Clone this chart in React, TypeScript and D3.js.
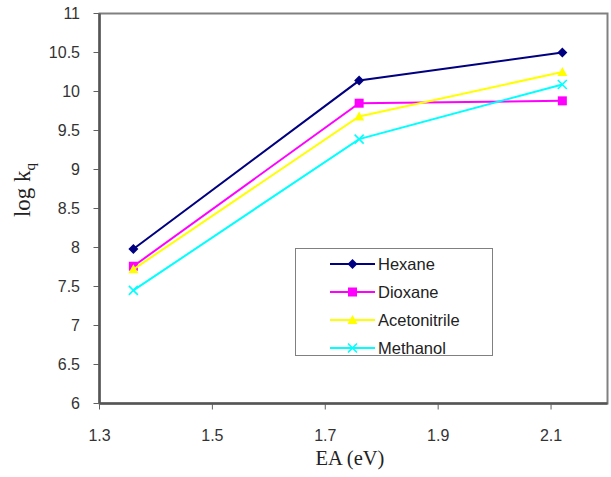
import React from "react";
import * as d3 from "d3";

const eaValues = [1.36, 1.76, 2.12];
const seriesNames = ["Hexane", "Dioxane", "Acetonitrile", "Methanol"];
const hexane = [7.98, 10.14, 10.5];
const dioxane = [7.76, 9.85, 9.88];
const acetonitrile = [7.72, 9.68, 10.25];
const methanol = [7.45, 9.39, 10.09];
const xTicks = [1.3, 1.5, 1.7, 1.9, 2.1];
const yTicks = [6, 6.5, 7, 7.5, 8, 8.5, 9, 9.5, 10, 10.5, 11];

const seriesValues = [hexane, dioxane, acetonitrile, methanol];
const colors = ["#000080", "#ff00ff", "#ffff00", "#00ffff"];
const markers = ["diamond", "square", "triangle", "cross"];

function Marker({ type, x, y, color }: { type: string; x: number; y: number; color: string }) {
  if (type === "diamond") {
    const s = 5;
    return <path d={`M${x},${y - s}L${x + s},${y}L${x},${y + s}L${x - s},${y}Z`} fill={color} />;
  }
  if (type === "square") {
    const s = 4.5;
    return <rect x={x - s} y={y - s} width={2 * s} height={2 * s} fill={color} />;
  }
  if (type === "triangle") {
    const s = 5;
    return <path d={`M${x},${y - s}L${x + s},${y + s * 0.8}L${x - s},${y + s * 0.8}Z`} fill={color} />;
  }
  const s = 4.5;
  return (
    <path
      d={`M${x - s},${y - s}L${x + s},${y + s}M${x + s},${y - s}L${x - s},${y + s}`}
      stroke={color}
      strokeWidth={1.6}
      fill="none"
    />
  );
}

export default function App() {
  const width = 611;
  const height = 477;
  const left = 99.5;
  const right = 607.5;
  const top = 13.5;
  const bottom = 403.5;
  const x = d3.scaleLinear().domain([1.3, 2.2]).range([left, right]);
  const y = d3.scaleLinear().domain([6, 11]).range([bottom, top]);
  const line = d3
    .line<number>()
    .x((_, i) => x(eaValues[i]))
    .y((d) => y(d));

  const sans = "'Liberation Sans', Arial, sans-serif";
  const serif = "'Liberation Serif', 'Times New Roman', serif";

  const legX = 295.5;
  const legY = 248.5;
  const legW = 197;
  const legH = 107;

  return (
    <svg width={width} height={height} style={{ position: "absolute", left: 0, top: 0 }}>
      <rect width={width} height={height} fill="#fff" />
      {/* ticks */}
      {yTicks.map((t) => (
        <g key={"y" + t}>
          <line x1={left - 6} x2={left} y1={y(t)} y2={y(t)} stroke="#606060" strokeWidth={1} />
          <text x={80} y={y(t)} dy="0.36em" textAnchor="end" fontFamily={sans} fontSize={16} fill="#333">
            {t}
          </text>
        </g>
      ))}
      {xTicks.map((t) => (
        <g key={"x" + t}>
          <line x1={x(t)} x2={x(t)} y1={bottom} y2={bottom + 6} stroke="#606060" strokeWidth={1} />
          <text x={x(t)} y={440.5} textAnchor="middle" fontFamily={sans} fontSize={16} fill="#333">
            {t.toFixed(1)}
          </text>
        </g>
      ))}
      {/* frame */}
      <rect x={left} y={top} width={right - left} height={bottom - top} fill="none" stroke="#808080" strokeWidth={2} />
      <line x1={left} x2={left} y1={top} y2={bottom} stroke="#555" strokeWidth={2.5} />
      <line x1={left} x2={right} y1={bottom} y2={bottom} stroke="#555" strokeWidth={2.5} />
      {/* series */}
      {seriesValues.map((vals, si) => (
        <g key={seriesNames[si]}>
          <path d={line(vals) || ""} fill="none" stroke={colors[si]} strokeWidth={2} />
          {vals.map((v, i) => (
            <Marker key={i} type={markers[si]} x={x(eaValues[i])} y={y(v)} color={colors[si]} />
          ))}
        </g>
      ))}
      {/* legend */}
      <rect x={legX} y={legY} width={legW} height={legH} fill="#fff" stroke="#808080" strokeWidth={1} />
      {seriesNames.map((name, i) => {
        const ly = 264 + i * 28;
        return (
          <g key={"leg" + name}>
            <line x1={330} x2={375} y1={ly} y2={ly} stroke={colors[i]} strokeWidth={2} />
            <Marker type={markers[i]} x={352.5} y={ly} color={colors[i]} />
            <text x={378} y={ly} dy="0.36em" fontFamily={sans} fontSize={16.5} fill="#222">
              {name}
            </text>
          </g>
        );
      })}
      {/* axis titles */}
      <text
        transform={`translate(30, 190) rotate(-90)`}
        textAnchor="middle"
        fontFamily={serif}
        fontSize={23}
        fill="#222"
      >
        log k<tspan fontSize={15} dy={5}>q</tspan>
      </text>
      <text x={350} y={465} textAnchor="middle" fontFamily={serif} fontSize={20.5} fill="#222">
        EA (eV)
      </text>
    </svg>
  );
}
